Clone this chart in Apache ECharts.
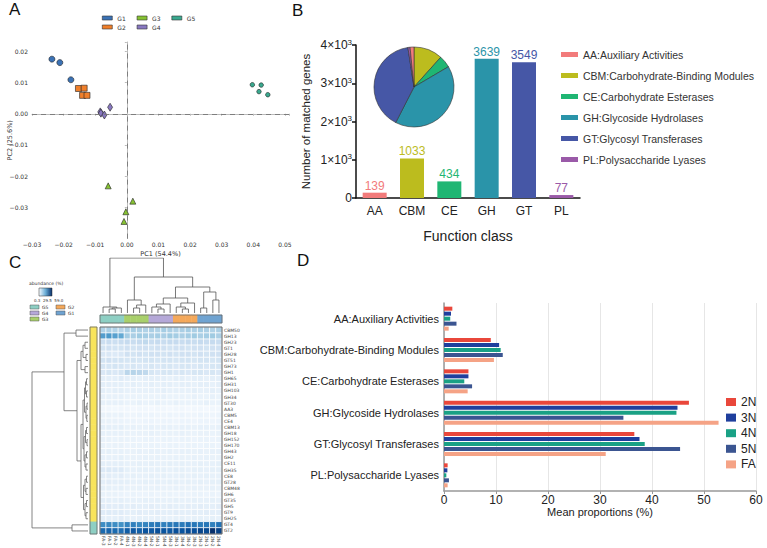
<!DOCTYPE html>
<html>
<head>
<meta charset="utf-8">
<script src="https://cdn.jsdelivr.net/npm/echarts/dist/echarts.min.js"></script>
<style>
html,body{margin:0;padding:0;background:#fff}
#main{width:767px;height:548px}
</style>
</head>
<body>
<div id="main"></div>
<script>
var chart = echarts.init(document.getElementById('main'), null, {renderer: 'svg'});

// ---- panel A : PCA scores
var pcaG1 = [[-0.0237,0.0175],[-0.0212,0.0164],[-0.0177,0.0109]];
var pcaG2 = [[-0.0153,0.0081],[-0.0135,0.0082],[-0.0140,0.0059],[-0.0126,0.0059]];
var pcaG3 = [[-0.0059,-0.0231],[0.0019,-0.0280],[-0.0003,-0.0314],[-0.0009,-0.0345]];
var pcaG4 = [[-0.0084,0.0006],[-0.0082,0.0002],[-0.0071,-0.0004],[-0.0053,0.0021]];
var pcaG5 = [[0.0397,0.0093],[0.0425,0.0092],[0.0418,0.0071],[0.0446,0.0061]];

// ---- panel B : CAZy classes
var catB = ['AA','CBM','CE','GH','GT','PL'];
var geneCounts = [139,1033,434,3639,3549,77];
var classNames = ['AA:Auxiliary Activities','CBM:Carbohydrate-Binding Modules','CE:Carbohydrate Esterases',
  'GH:Glycoside Hydrolases','GT:Glycosyl Transferases','PL:Polysaccharide Lyases'];
var classColors = ['#f27b7b','#bcbc1e','#1fb673','#2a94a9','#4657a6','#9a5aa8'];
var pieOrder = [1,2,3,4,5,0];
var bTicks = [0,1000,2000,3000,4000];

// ---- panel C : heatmap
var rowNames = ['CBM50','GH13','GH23','GT1','GH28','GT51','GH73','GH1','GH65','GH31','GH103','GH34','GT30','AA3',
  'CBM5','CE4','CBM13','GH18','GH152','GH170','GH43','GH2','CE11','GH35','CE8','GT28','CBM48','GH6','GT35','GH5',
  'GT9','GH25','GT4','GT2'];
var colNames = ['FA-3','FA-1','FA-2','FA-4','4N-1','4N-3','4N-2','4N-4','5N-2','5N-1','5N-4','5N-3',
  '3N-1','3N-4','3N-2','3N-3','2N-3','2N-1','2N-2','2N-4'];
var colGroups = [5,5,5,5,3,3,3,3,4,4,4,4,2,2,2,2,1,1,1,1];
var rowClusters = [1,1,1,1,1,1,1,1,1,1,1,1,1,1,1,1,1,1,1,1,1,1,1,1,1,1,1,1,1,1,1,1,2,2];
var abundance = [
  [19,20,19,18,20,21,20,19,20,19,21,20,19,20,21,20,21,20,19,20],
  [34,35,33,31,21,20,22,21,20,21,20,22,21,20,21,22,20,21,22,20],
  [13,14,13,14,15,14,15,16,14,15,14,15,15,14,15,14,15,14,15,14],
  [11,12,11,11,12,11,12,12,11,12,12,11,12,12,11,12,12,11,12,12],
  [9,9,8,9,12,11,12,11,12,12,11,12,11,12,12,11,12,11,12,12],
  [11,12,11,11,10,11,10,11,11,10,11,11,10,11,11,10,11,11,10,11],
  [10,10,11,10,9,10,9,9,10,9,10,10,9,10,10,9,10,9,10,10],
  [9,10,9,10,17,18,17,16,10,9,10,10,9,10,9,10,10,9,10,9],
  [6,6,6,7,6,6,5,6,6,6,6,5,6,6,5,6,6,5,6,6],
  [6,6,6,6,5,6,5,5,6,5,6,6,5,6,6,5,6,6,5,6],
  [6,5,6,6,5,5,5,5,5,5,6,5,5,5,5,6,5,5,6,5],
  [5,5,5,5,4,4,4,4,4,4,5,4,4,4,4,5,4,4,5,4],
  [5,5,5,5,4,4,5,4,4,5,4,4,5,4,4,4,4,5,4,4],
  [2,2,1.8,2,2,1.5,2,2,1.5,2,2,1.5,2,2,1.5,2,2,1.5,2,2],
  [4.5,4.5,4,4.5,3,3,3.5,3,3.5,3,3,3.5,3,3.5,3,3,3.5,3,3,3.5],
  [4.5,4.5,4.5,4,3.5,3.5,3,3.5,3.5,3,3.5,3.5,3,3.5,3.5,3,3.5,3.5,3,3.5],
  [6,6,5.5,6,4.5,5,4.5,4.5,5,4.5,5,5,4.5,5,5,4.5,5,5,4.5,5],
  [5,5,5,5,4.5,4,4.5,4.5,5,4.5,4,4.5,4.5,5,4.5,4,4.5,4.5,4,4.5],
  [4.5,4.5,4,4.5,4,4,3.5,4,4,3.5,4,4,3.5,4,4,3.5,4,4,3.5,4],
  [4.5,4,4.5,4.5,3.5,4,4,3.5,4,4,3.5,4,4,3.5,4,4,3.5,4,4,3.5],
  [5,5.5,5,5,4.5,4.5,5,4.5,5,5,4.5,5,4.5,5,5,4.5,5,4.5,5,5],
  [5,5,5,5.5,4.5,4.5,4.5,5,4.5,5,4.5,4.5,5,4.5,4.5,5,4.5,5,4.5,4.5],
  [6,6,6,6,5,5,5.5,5,5.5,5,5,5.5,5,5.5,5,5,5.5,5,5,5.5],
  [8,8.5,8,8,5.5,5,5.5,5.5,5,5.5,5.5,5,5.5,5.5,5,5.5,5.5,5,5.5,5.5],
  [6.5,6.5,6,6.5,5,5.5,5,5,5.5,5,5.5,5,5,5.5,5,5.5,5,5.5,5,5],
  [6,6.5,6,6,5.5,5,5,5.5,5,5.5,5,5.5,5.5,5,5.5,5,5.5,5,5.5,5.5],
  [5.5,5.5,5,5.5,4.5,4.5,5,4.5,4.5,5,4.5,4.5,5,4.5,4.5,5,4.5,4.5,5,4.5],
  [4.5,4.5,4.5,4,3.5,4,3.5,3.5,4,3.5,4,4,3.5,4,3.5,4,4,3.5,4,3.5],
  [6,6,5.5,6,5,5,5,5.5,5,5.5,5,5,5.5,5,5,5.5,5,5,5.5,5],
  [7,7,6.5,7,6,6.5,6,6,6.5,6,6,6.5,6,6,6.5,6,6.5,6,6,6.5],
  [7,7.5,7,7,6,6,6.5,6,6,6.5,6,6,6.5,6,6,6.5,6,6.5,6,6],
  [6,6,6,6.5,5.5,5,5.5,5.5,5,5.5,5.5,5,5.5,5.5,5,5.5,5.5,5,5.5,5],
  [38,39,38,37,40,41,39,40,42,43,41,42,43,42,44,43,42,43,41,44],
  [46,47,46,45,49,50,48,51,50,52,51,50,52,51,53,52,54,53,59,55]
];
// linkage rows: [childA, childB, height]; new clusters numbered after the leaves
var colLinkage = [[1,2,4],[20,3,5],[0,21,6],[5,6,5],[23,7,8],[24,4,13],[9,10,4],[8,26,6],[27,11,9],
  [13,14,4],[12,29,6],[30,15,10],[28,31,15],[16,17,5],[18,19,13],[33,34,21],[32,35,26],[25,36,36],[22,37,55]];
var rowLinkage = [[0,1,12],[32,33,16],[2,3,3],[4,5,2],[36,37,5],[6,7,3],[38,39,7],[8,9,1.5],[10,11,1.5],
  [41,42,2.5],[12,13,1],[14,15,1.2],[44,45,2],[43,46,3.5],[16,17,1.5],[18,19,1],[48,49,2.5],[20,21,1.5],
  [22,23,2],[51,52,3],[50,53,4],[47,54,5],[24,25,1.5],[26,27,2],[56,57,3],[28,29,1.5],[30,31,2],[59,60,3],
  [58,61,4.5],[55,62,7],[40,63,11],[34,64,24],[65,35,56]];

// ---- panel D : mean proportions
var catD = classNames;
var prop2N = [1.6,9.0,4.7,47.1,36.6,0.7];
var prop3N = [1.35,10.6,4.7,44.9,37.6,0.65];
var prop4N = [1.2,10.9,3.9,44.7,38.6,0.45];
var prop5N = [2.4,11.3,5.4,34.5,45.4,0.95];
var propFA = [0.9,9.6,4.55,52.8,31.1,0.7];
var groupsD = ['2N','3N','4N','5N','FA'];
var colorsD = ['#e9473b','#1f3f9d','#1aa185','#3b5591','#f5a386'];

function dendro(linkage, n, swap) {
  var pos = [], ht = [], out = [];
  for (var i = 0; i < n; i++) { pos[i] = i + 0.5; ht[i] = 0; }
  linkage.forEach(function (m, k) {
    var a = m[0], b = m[1], id = n + k;
    pos[id] = (pos[a] + pos[b]) / 2; ht[id] = m[2];
    var pts = [[pos[a], ht[a]], [pos[a], m[2]], [pos[b], m[2]], [pos[b], ht[b]]];
    if (swap) pts = pts.map(function (p) { return [p[1], p[0]]; });
    out.push({coords: pts});
  });
  return out;
}

function pcaLabel(v) {
  var r = Math.round(v * 100);
  if (Math.abs(v * 100 - r) > 1e-6) return '';
  var s = (Math.abs(r) / 100).toFixed(2);
  return r < 0 ? '\u2212' + s : s;
}

var heatData = [];
abundance.forEach(function (row, r) {
  row.forEach(function (v, c) { heatData.push([c, r, v]); });
});
var colBarData = colGroups.map(function (g, i) { return [i, 0, g]; });
var rowBarData = rowClusters.map(function (g, i) { return [0, i, g]; });

var fA = 'DejaVu Sans', fB = 'Liberation Sans';
var grayAx = {lineStyle: {color: '#bbb', width: 1}};
var noAx = {show: false};

var scatterStyle = function (name, data, sym, size, color) {
  return {name: name, type: 'scatter', xAxisIndex: 0, yAxisIndex: 0, data: data, symbol: sym, symbolSize: size,
    itemStyle: {color: color, borderColor: '#222', borderWidth: 0.6, opacity: 1}};
};

var series = [
  scatterStyle('G1', pcaG1, 'circle', 6, '#3b72b5'),
  scatterStyle('G2', pcaG2, 'rect', 6, '#f07f2a'),
  scatterStyle('G3', pcaG3, 'triangle', 6, '#86c232'),
  scatterStyle('G4', pcaG4, 'diamond', [5, 8], '#8878c0'),
  scatterStyle('G5', pcaG5, 'circle', 4.5, '#3aa98f'),
  {type: 'bar', name: 'genes', xAxisIndex: 1, yAxisIndex: 1, barWidth: 24,
    data: geneCounts.map(function (v, i) {
      return {value: v, itemStyle: {color: classColors[i]}, label: {color: classColors[i]}};
    }),
    label: {show: true, position: 'top', distance: 1, fontSize: 12, fontFamily: fB}},
  {type: 'pie', center: [414, 87], radius: 40, startAngle: 90, clockwise: true, z: 5,
    label: {show: false}, labelLine: {show: false},
    itemStyle: {borderColor: '#333', borderWidth: 0.6},
    data: pieOrder.map(function (i) {
      return {name: classNames[i], value: geneCounts[i], itemStyle: {color: classColors[i]}};
    })},
  {type: 'heatmap', xAxisIndex: 2, yAxisIndex: 2, data: heatData, progressive: 0,
    itemStyle: {borderColor: '#fff', borderWidth: 0.8}},
  {type: 'heatmap', xAxisIndex: 3, yAxisIndex: 3, data: colBarData, progressive: 0},
  {type: 'heatmap', xAxisIndex: 4, yAxisIndex: 4, data: rowBarData, progressive: 0},
  {type: 'lines', coordinateSystem: 'cartesian2d', xAxisIndex: 5, yAxisIndex: 5, polyline: true, silent: true,
    data: dendro(colLinkage, colNames.length, false), lineStyle: {color: '#555', width: 0.8, opacity: 1}},
  {type: 'lines', coordinateSystem: 'cartesian2d', xAxisIndex: 6, yAxisIndex: 6, polyline: true, silent: true,
    data: dendro(rowLinkage, rowNames.length, true), lineStyle: {color: '#666', width: 0.8, opacity: 1}}
];
[prop2N, prop3N, prop4N, prop5N, propFA].forEach(function (arr, k) {
  series.push({type: 'bar', name: groupsD[k], xAxisIndex: 7, yAxisIndex: 7, data: arr,
    barWidth: 4, barGap: '25%', itemStyle: {color: colorsD[k]}});
});
series[0].markLine = {silent: true, symbol: 'none', label: {show: false},
  lineStyle: {type: [5, 4], color: '#777', width: 0.9}, data: [{xAxis: 0}, {yAxis: 0}]};

var option = {
  animation: false,
  grid: [
    {left: 32, top: 42, width: 257, height: 196.6, outerBoundsMode: 'none'},
    {left: 356, top: 45, width: 224, height: 153, outerBoundsMode: 'none'},
    {left: 100, top: 327, width: 122, height: 207, outerBoundsMode: 'none'},
    {left: 100, top: 315, width: 122, height: 8, outerBoundsMode: 'none'},
    {left: 90, top: 327, width: 7, height: 207, outerBoundsMode: 'none'},
    {left: 100, top: 258, width: 122, height: 55, outerBoundsMode: 'none'},
    {left: 32, top: 327, width: 56, height: 207, outerBoundsMode: 'none'},
    {left: 444, top: 303, width: 312, height: 188, outerBoundsMode: 'none'}
  ],
  xAxis: [
    {gridIndex: 0, type: 'value', min: -0.03, max: 0.0513, interval: 0.01, splitLine: {show: false},
      axisLine: grayAx, axisTick: {show: true, length: 2, lineStyle: {color: '#bbb'}},
      axisLabel: {fontSize: 6, fontFamily: fA, color: '#333', margin: 3, formatter: pcaLabel},
      name: 'PC1 (54.4%)', nameLocation: 'middle', nameGap: 11.5, nameMoveOverlap: false,
      nameTextStyle: {fontSize: 6.5, fontFamily: fA, color: '#333'}},
    {gridIndex: 1, type: 'category', data: catB, axisLine: {lineStyle: {color: '#111', width: 1.5}},
      axisTick: {show: false}, axisLabel: {fontSize: 12, fontFamily: fB, color: '#222', margin: 7},
      name: 'Function class', nameLocation: 'middle', nameGap: 31, nameTextStyle: {fontSize: 14, fontFamily: fB, color: '#222'}},
    {gridIndex: 2, type: 'category', data: colNames, position: 'bottom', axisLine: noAx, axisTick: noAx,
      axisLabel: {rotate: -90, fontSize: 4.5, fontFamily: fA, color: '#444', margin: 2, interval: 0}},
    {gridIndex: 3, type: 'category', data: colNames, show: false},
    {gridIndex: 4, type: 'category', data: [''], show: false},
    {gridIndex: 5, type: 'value', min: 0, max: 20, show: false},
    {gridIndex: 6, type: 'value', min: 0, max: 56, inverse: true, show: false},
    {gridIndex: 7, type: 'value', min: 0, max: 60, interval: 10,
      splitLine: {show: true, lineStyle: {color: '#e6e6e6', width: 1}},
      axisLine: {show: true, lineStyle: {color: '#999', width: 1.5}},
      axisTick: {show: true, length: 3, lineStyle: {color: '#999'}},
      axisLabel: {fontSize: 12, fontFamily: fB, color: '#222', margin: 3},
      name: 'Mean proportions (%)', nameLocation: 'middle', nameGap: 15, nameTextStyle: {fontSize: 11, fontFamily: fB, color: '#222'}}
  ],
  yAxis: [
    {gridIndex: 0, type: 'value', min: -0.04, max: 0.023, interval: 0.01, splitLine: {show: false},
      axisLine: grayAx, axisTick: {show: true, length: 2, lineStyle: {color: '#bbb'}},
      axisLabel: {fontSize: 6, fontFamily: fA, color: '#333', margin: 4, showMinLabel: false, formatter: function (v) {
        return v < -0.035 ? '' : pcaLabel(v); }},
      name: 'PC2 (25.6%)', nameLocation: 'middle', nameGap: 19, nameMoveOverlap: false,
      nameTextStyle: {fontSize: 6.5, fontFamily: fA, color: '#333'}},
    {gridIndex: 1, type: 'value', min: bTicks[0], max: bTicks[4], interval: 1000, splitLine: {show: false},
      axisLine: {show: true, lineStyle: {color: '#111', width: 1.5}},
      axisTick: {show: true, length: 4, lineStyle: {color: '#111', width: 1.5}},
      axisLabel: {color: '#222', fontFamily: fB, margin: 4, formatter: function (v) {
        return v === 0 ? '{n|0}' : '{n|' + (v / 1000) + '\u00d710}{s|3}'; },
        rich: {n: {fontSize: 12, fontFamily: fB, color: '#222', lineHeight: 14},
               s: {fontSize: 8, fontFamily: fB, color: '#222', verticalAlign: 'top', lineHeight: 14}}},
      name: 'Number of matched genes', nameLocation: 'middle', nameGap: 44,
      nameTextStyle: {fontSize: 11.5, fontFamily: fB, color: '#222'}},
    {gridIndex: 2, type: 'category', data: rowNames, inverse: true, position: 'right', axisLine: noAx, axisTick: noAx,
      axisLabel: {fontSize: 4.5, fontFamily: fA, color: '#444', margin: 2, interval: 0}},
    {gridIndex: 3, type: 'category', data: [''], show: false},
    {gridIndex: 4, type: 'category', data: rowNames, inverse: true, show: false},
    {gridIndex: 5, type: 'value', min: 0, max: 55, show: false},
    {gridIndex: 6, type: 'value', min: 0, max: 34, inverse: true, show: false},
    {gridIndex: 7, type: 'category', data: catD, inverse: true, axisTick: {show: false},
      axisLine: {show: true, lineStyle: {color: '#999', width: 1.5}},
      axisLabel: {fontSize: 11, fontFamily: fB, color: '#222', margin: 5}}
  ],
  visualMap: [
    {type: 'continuous', show: false, seriesIndex: 7, dimension: 2, min: 0.3, max: 59,
      inRange: {color: ['#f7fbff','#deebf7','#c6dbef','#9ecae1','#6baed6','#4292c6','#2171b5','#08519c','#08306b']}},
    {type: 'piecewise', show: false, seriesIndex: 8, dimension: 2,
      pieces: [{value: 1, color: '#6fa3d1'}, {value: 2, color: '#f4a85a'}, {value: 3, color: '#a8cf6a'},
               {value: 4, color: '#b5a8d8'}, {value: 5, color: '#8ecfc3'}]},
    {type: 'piecewise', show: false, seriesIndex: 9, dimension: 2,
      pieces: [{value: 1, color: '#f8e45c'}, {value: 2, color: '#8ecfc3'}]}
  ],
  legend: [
    {data: ['G1','G3','G5'], left: 102, top: 15, padding: 0, icon: 'rect', itemWidth: 10, itemHeight: 4, itemGap: 11,
      itemStyle: {borderColor: '#333', borderWidth: 0.6}, textStyle: {fontSize: 6, fontFamily: fA, color: '#333'}},
    {data: ['G2','G4'], left: 102, top: 24, padding: 0, icon: 'rect', itemWidth: 10, itemHeight: 4, itemGap: 11,
      itemStyle: {borderColor: '#333', borderWidth: 0.6}, textStyle: {fontSize: 6, fontFamily: fA, color: '#333'}},
    {data: classNames, orient: 'vertical', left: 561, top: 48, padding: 0, icon: 'rect', itemWidth: 17, itemHeight: 5,
      itemGap: 8, itemStyle: {borderWidth: 0}, textStyle: {fontSize: 10.5, fontFamily: fB, color: '#333', lineHeight: 13}},
    {data: groupsD, orient: 'vertical', left: 726, top: 395, padding: 0, icon: 'rect', itemWidth: 10, itemHeight: 8,
      itemGap: 1.6, textStyle: {fontSize: 12, fontFamily: fB, color: '#222', lineHeight: 14}}
  ],
  graphic: [
    {type: 'text', left: 9, top: 1, style: {text: 'A', fontSize: 17, fontFamily: fB, fill: '#111'}},
    {type: 'text', left: 292, top: 2, style: {text: 'B', fontSize: 17, fontFamily: fB, fill: '#111'}},
    {type: 'text', left: 9, top: 254, style: {text: 'C', fontSize: 17, fontFamily: fB, fill: '#111'}},
    {type: 'text', left: 297, top: 252, style: {text: 'D', fontSize: 17, fontFamily: fB, fill: '#111'}},
    {type: 'rect', z: 100, shape: {x: 100, y: 327, width: 122, height: 207}, style: {fill: 'none', stroke: '#666', lineWidth: 1}},
    {type: 'rect', z: 100, shape: {x: 100, y: 315, width: 122, height: 8}, style: {fill: 'none', stroke: '#666', lineWidth: 0.8}},
    {type: 'rect', z: 100, shape: {x: 90, y: 327, width: 7, height: 207}, style: {fill: 'none', stroke: '#666', lineWidth: 0.8}},
    {type: 'text', x: 29, y: 281, style: {text: 'abundance (%)', fontSize: 4.5, fontFamily: fA, fill: '#333'}},
    {type: 'rect', shape: {x: 39, y: 288, width: 13, height: 8},
      style: {stroke: '#333', lineWidth: 0.5, fill: new echarts.graphic.LinearGradient(0, 0, 1, 0,
        [{offset: 0, color: '#f7fbff'}, {offset: 0.5, color: '#6baed6'}, {offset: 1, color: '#08306b'}])}},
    {type: 'text', x: 34, y: 298, style: {text: '0.3  29.5  59.0', fontSize: 4, fontFamily: fA, fill: '#333'}},
    {type: 'rect', shape: {x: 30, y: 305, width: 9, height: 4}, style: {fill: '#8ecfc3', stroke: '#555', lineWidth: 0.5}},
    {type: 'text', x: 42, y: 304.5, style: {text: 'G5', fontSize: 4.5, fontFamily: fA, fill: '#333'}},
    {type: 'rect', shape: {x: 56, y: 305, width: 9, height: 4}, style: {fill: '#f4a85a', stroke: '#555', lineWidth: 0.5}},
    {type: 'text', x: 68, y: 304.5, style: {text: 'G2', fontSize: 4.5, fontFamily: fA, fill: '#333'}},
    {type: 'rect', shape: {x: 30, y: 311, width: 9, height: 4}, style: {fill: '#b5a8d8', stroke: '#555', lineWidth: 0.5}},
    {type: 'text', x: 42, y: 310.5, style: {text: 'G4', fontSize: 4.5, fontFamily: fA, fill: '#333'}},
    {type: 'rect', shape: {x: 56, y: 311, width: 9, height: 4}, style: {fill: '#6fa3d1', stroke: '#555', lineWidth: 0.5}},
    {type: 'text', x: 68, y: 310.5, style: {text: 'G1', fontSize: 4.5, fontFamily: fA, fill: '#333'}},
    {type: 'rect', shape: {x: 30, y: 317, width: 9, height: 4}, style: {fill: '#a8cf6a', stroke: '#555', lineWidth: 0.5}},
    {type: 'text', x: 42, y: 316.5, style: {text: 'G3', fontSize: 4.5, fontFamily: fA, fill: '#333'}}
  ],
  series: series
};
chart.setOption(option);
</script>
</body>
</html>
